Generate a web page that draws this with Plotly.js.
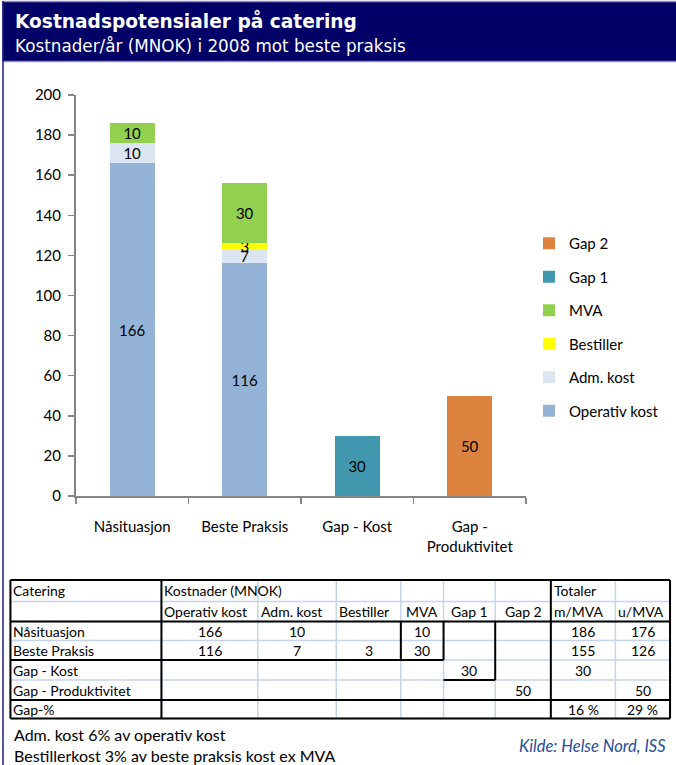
<!DOCTYPE html>
<html><head><meta charset="utf-8">
<script src="https://cdn.plot.ly/plotly-3.0.1.min.js"></script>
<style>html,body{margin:0;padding:0;background:#fff}#chart{width:676px;height:765px}</style>
</head><body><div id="chart"></div>
<script>
// ---------- data ----------
const categories = ["Nåsituasjon", "Beste Praksis", "Gap - Kost", "Gap - Produktivitet"];
const tickLabels = ["Nåsituasjon", "Beste Praksis", "Gap - Kost", "Gap -<br>Produktivitet"];
const operativKost = [166, 116, null, null];
const admKost = [10, 7, null, null];
const bestiller = [null, 3, null, null];
const mva = [10, 30, null, null];
const gap1 = [null, null, 30, null];
const gap2 = [null, null, null, 50];
const totalMedMva = [186, 155, 30, null];
const totalUtenMva = [176, 126, null, 50];
const gapPct = ["16 %", "29 %"];
const yTicks = [0, 20, 40, 60, 80, 100, 120, 140, 160, 180, 200];
const seriesNames = ["Operativ kost", "Adm. kost", "Bestiller", "MVA", "Gap 1", "Gap 2"];
const seriesColors = ["#95B3D7", "#DCE6F2", "#FFFF00", "#92D050", "#4198AF", "#DC843F"];
const tableRowLabels = ["Nåsituasjon", "Beste Praksis", "Gap - Kost", "Gap - Produktivitet", "Gap-%"];
const tableHeaderTop = ["Catering", "Kostnader (MNOK)", "", "", "", "", "", "Totaler", ""];
const tableHeaderSub = ["", "Operativ kost", "Adm. kost", "Bestiller", "MVA", "Gap 1", "Gap 2", "m/MVA", "u/MVA"];
const titleText = "Kostnadspotensialer på catering";
const subtitleText = "Kostnader/år (MNOK) i 2008 mot beste praksis";
const notes = ["Adm. kost 6% av operativ kost", "Bestillerkost 3% av beste praksis kost ex MVA"];
const sourceText = "Kilde: Helse Nord, ISS";

// ---------- layout helpers ----------
const W = 676, H = 765;
const M = {l: 76, r: 147, t: 95, b: 269};
const PW = W - M.l - M.r, PH = H - M.t - M.b;
const px = x => (x - M.l) / PW;
const py = y => (H - M.b - y) / PH;
const FONT = "Lato, 'Open Sans', sans-serif";

const seriesValues = [operativKost, admKost, bestiller, mva, gap1, gap2];
const traces = seriesValues.map((vals, i) => ({
  type: "bar",
  name: seriesNames[i],
  legendgroup: "g" + i,
  legendrank: seriesValues.length - i,
  x: categories,
  y: vals,
  text: vals.map(v => v == null ? "" : String(v)),
  textposition: "inside",
  insidetextanchor: "middle",
  constraintext: "none",
  textangle: 0,
  insidetextfont: {family: FONT, size: 15, color: "#000"},
  marker: {color: seriesColors[i], line: {width: 0}},
  hoverinfo: "skip"
}));

// ---------- shapes ----------
const shapes = [];
shapes.push({type: "rect", xref: "paper", yref: "paper", x0: px(2), x1: px(W + 5), y0: py(61), y1: py(2),
  fillcolor: "#000066", line: {width: 0}, layer: "above"});
shapes.push({type: "line", xref: "paper", yref: "paper", x0: px(2), x1: px(W + 5), y0: py(1.5), y1: py(1.5),
  line: {color: "#8C8CC8", width: 1.5}});
shapes.push({type: "line", xref: "paper", yref: "paper", x0: px(2), x1: px(W + 5), y0: py(61.5), y1: py(61.5),
  line: {color: "#8C8CC8", width: 1.5}});
shapes.push({type: "line", xref: "paper", yref: "paper", x0: px(2.5), x1: px(2.5), y0: py(1), y1: py(H + 2),
  line: {color: "#1A1A80", width: 1.5}});

// table grid
const colX = [10, 162, 259, 338, 403, 446, 498, 554, 619, 674];
const rowY = [580, 601.5, 621.5, 640.5, 660, 680, 700, 718.5];
const LIGHT = "#C5D4EA";
const hline = (y, x0, x1, c, w) => shapes.push({type: "line", xref: "paper", yref: "paper",
  x0: px(x0), x1: px(x1), y0: py(y), y1: py(y), line: {color: c, width: w}});
const vline = (x, y0, y1, c, w) => shapes.push({type: "line", xref: "paper", yref: "paper",
  x0: px(x), x1: px(x), y0: py(y0), y1: py(y1), line: {color: c, width: w}});
rowY.forEach(y => hline(y, colX[0], colX[colX.length - 1], LIGHT, 1.5));
colX.forEach(x => vline(x, rowY[0], rowY[rowY.length - 1], LIGHT, 1.5));
const B = "#000", BW = 2;
hline(rowY[0], colX[0], colX[9], B, BW);
hline(rowY[2], colX[0], colX[9], B, BW);
hline(rowY[4], colX[0], colX[5], B, BW);
hline(rowY[5], colX[5], colX[6], B, BW);
hline(rowY[6], colX[0], colX[9], B, BW);
hline(rowY[7], colX[0], colX[9], B, BW);
vline(colX[0], rowY[0], rowY[7], B, BW);
vline(colX[1], rowY[0], rowY[7], B, BW);
vline(colX[4], rowY[2], rowY[4], B, BW);
vline(colX[5], rowY[2], rowY[4], B, BW);
vline(colX[6], rowY[2], rowY[5], B, BW);
vline(colX[7], rowY[0], rowY[7], B, BW);
vline(colX[9], rowY[0], rowY[7], B, BW);

// ---------- annotations ----------
const ann = [];
const txt = (t, x, y, opts = {}) => ann.push(Object.assign({
  text: t, xref: "paper", yref: "paper", x: px(x), y: py(y), showarrow: false,
  xanchor: "left", yanchor: "middle", font: {family: FONT, size: 14, color: "#000"}
}, opts));

txt(titleText, 13, 21, {font: {family: "DejaVu Sans", size: 18.6, color: "#fff", weight: 700}});
txt(subtitleText, 13, 46, {font: {family: "DejaVu Sans", size: 16.8, color: "#fff"}});

const rowMid = r => (rowY[r] + rowY[r + 1]) / 2;
const colMid = c => (colX[c] + colX[c + 1]) / 2;
const centeredHeaderCols = [4, 5, 6];
tableHeaderTop.forEach((t, c) => { if (t) txt(t, colX[c] + 1, rowMid(0)); });
tableHeaderSub.forEach((t, c) => {
  if (!t) return;
  if (centeredHeaderCols.includes(c)) txt(t, colMid(c), rowMid(1), {xanchor: "center"});
  else txt(t, colX[c] + 1, rowMid(1));
});
tableRowLabels.forEach((t, r) => txt(t, colX[0] + 1, rowMid(r + 2)));
categories.forEach((cat, r) => {
  seriesValues.forEach((vals, s) => {
    if (vals[r] != null) txt(String(vals[r]), colMid(s + 1), rowMid(r + 2), {xanchor: "center"});
  });
  if (totalMedMva[r] != null) txt(String(totalMedMva[r]), colMid(7), rowMid(r + 2), {xanchor: "center"});
  if (totalUtenMva[r] != null) txt(String(totalUtenMva[r]), colMid(8), rowMid(r + 2), {xanchor: "center"});
});
gapPct.forEach((t, i) => txt(t, colMid(7 + i), rowMid(6), {xanchor: "center"}));

txt(notes[0], 12, 734, {font: {family: FONT, size: 16, color: "#000"}});
txt(notes[1], 12, 755, {font: {family: FONT, size: 16, color: "#000"}});
txt(sourceText, 672, 746, {xanchor: "right", font: {family: FONT, size: 16.5, color: "#1F4E9A", style: "italic"}});

const layout = {
  width: W, height: H,
  margin: M,
  paper_bgcolor: "#fff", plot_bgcolor: "#fff",
  barmode: "stack",
  bargap: 0.6,
  showlegend: true,
  font: {family: FONT, size: 14, color: "#000"},
  legend: {
    x: px(532), xanchor: "left", y: py(227), yanchor: "top",
    traceorder: "grouped", tracegroupgap: 11,
    font: {family: FONT, size: 15, color: "#000"},
    itemwidth: 30, bgcolor: "rgba(0,0,0,0)"
  },
  xaxis: {
    type: "category", categoryorder: "array", categoryarray: categories,
    tickvals: categories, ticktext: tickLabels,
    tickson: "boundaries", ticks: "outside", ticklen: 6, tickwidth: 1.5, tickcolor: "#868686",
    showline: true, linecolor: "#868686", linewidth: 2, showgrid: false, zeroline: false,
    tickfont: {family: FONT, size: 15, color: "#000"}, ticklabelstandoff: 16,
    fixedrange: true
  },
  yaxis: {
    range: [0, 200], tickvals: yTicks, ticks: "outside", ticklen: 6, tickwidth: 1.5, tickcolor: "#868686",
    showline: true, linecolor: "#868686", linewidth: 2, showgrid: false, zeroline: false,
    tickfont: {family: FONT, size: 15, color: "#000"}, ticklabelstandoff: 4,
    fixedrange: true
  },
  shapes: shapes,
  annotations: ann
};

Plotly.newPlot("chart", traces, layout, {staticPlot: true, displayModeBar: false});
</script>
</body></html>
